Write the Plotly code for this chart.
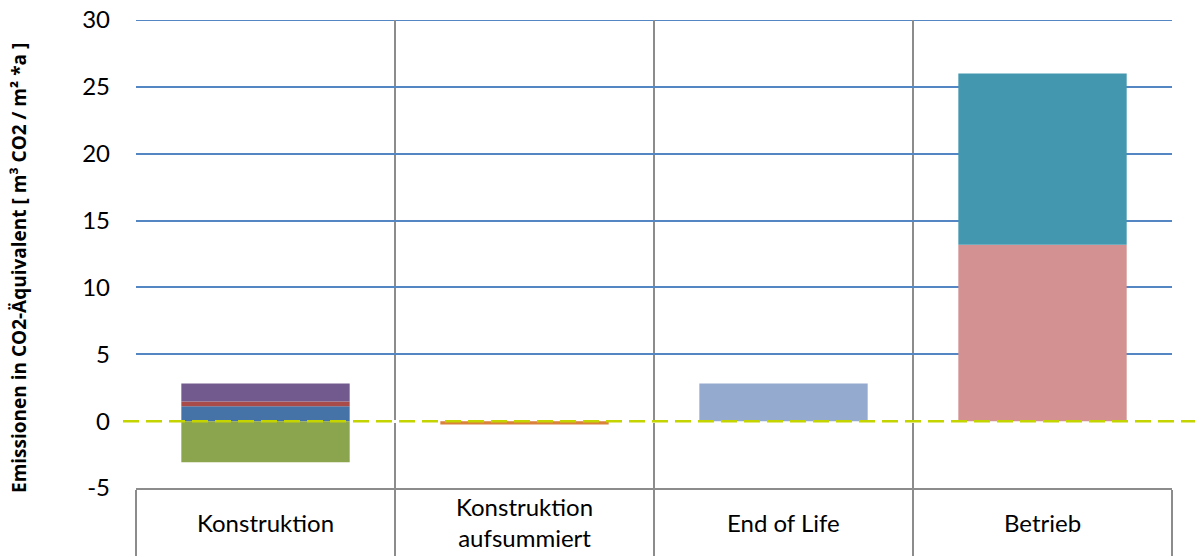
import plotly.graph_objects as go

# Categories along the x axis
categories = ["Konstruktion", "Konstruktion<br>aufsummiert", "End of Life", "Betrieb"]

# Stacked components (m³ CO2-Äquivalent / m² * a)
konstruktion_blau = 1.12
konstruktion_rot = 0.35
konstruktion_lila = 1.35
konstruktion_gruen = -3.07
aufsummiert = -0.25
end_of_life = 2.82
betrieb_rosa = 13.2
betrieb_tuerkis = 12.8

y_ticks = [-5, 0, 5, 10, 15, 20, 25, 30]

FONT = "Lato"
TITLE_FONT = "Open Sans"
GRID_BLUE = "#5586C4"
GREY = "#8C8C8C"

series = [
    (categories[0], konstruktion_blau, "#4573A8"),
    (categories[0], konstruktion_rot, "#A94B48"),
    (categories[0], konstruktion_lila, "#725A8E"),
    (categories[0], konstruktion_gruen, "#8AA54D"),
    (categories[1], aufsummiert, "#DA813B"),
    (categories[2], end_of_life, "#95AACF"),
    (categories[3], betrieb_rosa, "#D39191"),
    (categories[3], betrieb_tuerkis, "#4398B0"),
]

fig = go.Figure()
for cat, val, col in series:
    fig.add_trace(go.Bar(
        x=[cat], y=[val], width=0.65,
        marker=dict(color=col, line=dict(width=0)),
        showlegend=False, hoverinfo="y",
    ))

PLOT_W = 1200 - 136 - 28
PLOT_H = 556 - 20 - 68

fig.update_layout(
    width=1200, height=556,
    margin=dict(l=136, r=28, t=20, b=68, autoexpand=False),
    paper_bgcolor="white", plot_bgcolor="white",
    barmode="relative", bargap=0.35,
    font=dict(family=FONT, size=24, color="black"),
    showlegend=False,
)

fig.update_xaxes(
    type="category", categoryorder="array", categoryarray=categories,
    range=[-0.5, 3.5], automargin=False,
    tickson="boundaries", ticks="outside", ticklen=68, tickwidth=2, tickcolor=GREY,
    showgrid=True, gridcolor=GREY, gridwidth=2,
    showline=True, linecolor=GREY, linewidth=2,
    showticklabels=False,
)

fig.update_yaxes(
    range=[-5, 30], tickmode="array", tickvals=y_ticks,
    ticktext=[str(v) for v in y_ticks], automargin=False,
    ticks="", ticklabelstandoff=25,
    tickfont=dict(family=FONT, size=24),
    showgrid=True, gridcolor=GRID_BLUE, gridwidth=1.6,
    zeroline=True, zerolinecolor="white", zerolinewidth=3,
    showline=False,
)

# Top gridline at the upper end of the value range
fig.add_shape(
    type="line", xref="paper", yref="y", x0=0, x1=1, y0=30, y1=30,
    line=dict(color=GRID_BLUE, width=2), layer="below",
)

# Category labels centred in the cells below the axis
for cat in categories:
    fig.add_annotation(
        x=cat, xref="x", y=-34 / PLOT_H, yref="paper",
        text=cat, showarrow=False, xanchor="center", yanchor="middle",
        font=dict(family=FONT, size=24, color="black"),
    )

# Y axis title
fig.add_annotation(
    x=-117 / PLOT_W, xref="paper", y=(488 - 268) / PLOT_H, yref="paper",
    text="<b>Emissionen in CO2-Äquivalent [ m³ CO2 / m² *a ]</b>",
    textangle=-90, showarrow=False, xanchor="center", yanchor="middle",
    font=dict(family=TITLE_FONT, size=19, color="black"),
)

# Dashed zero line
fig.add_shape(
    type="line", xref="paper", yref="y",
    x0=-13 / PLOT_W, x1=1059 / PLOT_W, y0=0, y1=0,
    line=dict(color="#C3D400", width=2.5, dash="16px,7px"),
    layer="above",
)

fig.write_html("out.html")
